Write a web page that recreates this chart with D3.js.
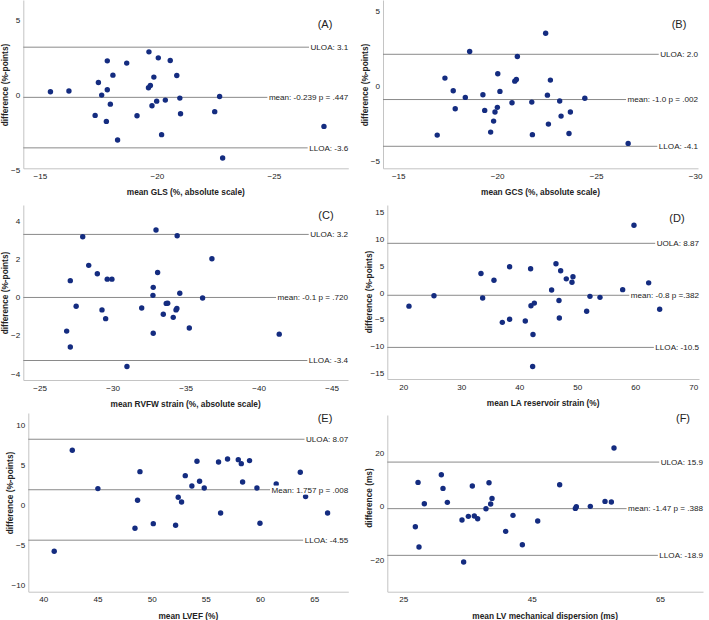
<!DOCTYPE html>
<html><head><meta charset="utf-8">
<script src="https://cdn.jsdelivr.net/npm/d3@7"></script>
<style>body{margin:0;background:#fff}svg{display:block}</style>
</head><body>
<svg id="chart" width="709" height="620"></svg>
<script>
// ---------- DATA ----------
// (A) GLS
const glsMean = [-15.45,-16.24,-17.36,-17.5,-17.64,-17.84,-17.88,-17.88,-18.01,-18.12,-18.32,-18.71,-19.15,-19.66,-19.64,-19.72,-19.79,-19.87,-19.99,-20.06,-20.2,-20.36,-20.57,-20.85,-20.98,-21.01,-22.47,-22.68,-22.81,-27.14];
const glsDiff = [0.13,0.18,-1.44,0.75,-0.09,-1.84,2.19,0.27,-0.69,1.24,-3.08,2.04,-1.46,2.79,0.40,0.55,-0.80,1.11,-0.49,2.39,-2.72,-0.42,2.21,1.22,-0.29,-1.33,-1.19,-0.18,-4.27,-2.17];
const glsLines = [3.1, -0.239, -3.6];
const glsLineLabels = ["ULOA: 3.1", "mean: -0.239 p = .447", "LLOA: -3.6"];
const glsXTicks = [-15, -20, -25];
const glsYTicks = [-5, 0, 5];

// (B) GCS
const gcsMean = [-16.97,-17.36,-17.78,-17.88,-18.39,-18.61,-19.28,-19.37,-19.67,-19.82,-19.89,-20.01,-20.03,-20.14,-20.75,-20.89,-20.97,-21.02,-21.75,-21.78,-22.45,-22.54,-22.59,-22.69,-23.16,-23.23,-23.63,-23.70,-24.43,-26.62];
const gcsDiff = [-3.36,0.42,-0.42,-1.61,-0.86,2.19,-0.68,-1.72,-3.16,-2.43,-1.83,-1.52,0.71,-0.46,-1.21,0.22,0.33,1.85,-1.17,-3.33,3.40,-0.71,-2.63,0.29,-1.10,-2.10,-3.25,-1.83,-0.91,-3.91];
const gcsLines = [2.0, -1.0, -4.1];
const gcsLineLabels = ["ULOA: 2.0", "mean: -1.0 p = .002", "LLOA: -4.1"];
const gcsXTicks = [-15, -20, -25, -30];
const gcsYTicks = [-5, 0, 5];

// (C) RVFW strain
const rvMean = [-26.85,-27.1,-27.1,-27.5,-27.95,-28.36,-28.95,-29.27,-29.52,-29.63,-29.95,-30.98,-31.99,-32.76,-32.78,-32.78,-32.97,-33.08,-33.47,-33.67,-33.77,-34.15,-34.34,-34.4,-34.42,-34.6,-35.25,-36.16,-36.8,-41.41];
const rvDiff = [-1.86,0.78,-2.69,-0.56,3.08,1.58,1.14,-0.75,-1.21,0.86,0.86,-3.71,-0.65,0.01,0.43,-1.97,3.43,1.21,-0.98,-0.41,-0.40,-1.14,-0.75,-0.68,3.13,0.12,-1.70,-0.13,1.93,-2.02];
const rvLines = [3.2, -0.1, -3.4];
const rvLineLabels = ["ULOA: 3.2", "mean: -0.1 p = .720", "LLOA: -3.4"];
const rvXTicks = [-25, -30, -35, -40, -45];
const rvYTicks = [-4, -2, 0, 2, 4];

// (D) LA reservoir strain
const laMean = [20.98,25.29,33.39,33.68,35.63,37.07,38.33,38.33,41.03,41.95,42.01,42.36,42.3,42.59,45.57,46.32,46.84,46.9,47.13,48.1,49.08,49.25,51.61,52.18,53.91,57.82,59.77,62.3,64.2];
const laDiff = [-2.82,-0.88,3.26,-1.32,2.01,-5.84,4.52,-5.27,-5.59,4.14,-2.76,-8.10,-14.06,-2.26,0.19,5.08,-1.76,-5.02,3.77,2.26,1.63,2.64,-3.77,-1.0,-1.19,0.25,12.24,1.51,-3.39];
const laLines = [8.87, -0.8, -10.5];
const laLineLabels = ["UOLA: 8.87", "mean: -0.8 p =.382", "LLOA: -10.5"];
const laXTicks = [20, 30, 40, 50, 60, 70];
const laYTicks = [-15, -10, -5, 0, 5, 10, 15];

// (E) LVEF
const efMean = [41.01,42.68,45.04,48.46,48.7,48.92,50.15,52.21,52.45,52.76,53.1,53.71,54.18,54.42,54.85,56.17,56.36,57.0,57.99,58.27,58.39,59.03,59.71,59.99,61.49,63.71,64.2,66.23];
const efDiff = [-5.94,6.69,1.90,-3.06,0.44,4.02,-2.48,-2.69,0.81,0.23,3.52,2.23,5.31,2.81,1.98,5.23,-1.15,5.6,5.52,5.02,2.73,5.40,1.98,-2.44,2.48,3.94,0.90,-1.15];
const efLines = [8.07, 1.757, -4.55];
const efLineLabels = ["ULOA: 8.07", "Mean: 1.757 p = .008", "LLOA: -4.55"];
const efXTicks = [40, 45, 50, 55, 60, 65];
const efYTicks = [-10, -5, 0, 5, 10];

// (F) LV mechanical dispersion
const mdMean = [26.87,27.29,27.44,28.27,30.92,31.18,31.86,34.14,35.13,35.75,36.06,36.58,37.88,38.35,38.61,38.82,34.4,40.95,42.09,43.55,45.94,49.36,51.81,51.96,54.14,56.43,57.42,57.83];
const mdDiff = [-8.21,8.33,-15.80,0.37,11.19,6.09,0.87,-5.72,-4.35,6.97,-4.23,-5.22,-1.49,8.21,0.25,2.36,-21.39,-9.95,-3.98,-14.93,-6.09,7.46,-1.37,-0.75,-0.62,1.24,0.99,21.14];
const mdLines = [15.9, -1.47, -18.9];
const mdLineLabels = ["ULOA: 15.9", "mean: -1.47 p = .388", "LLOA: -18.9"];
const mdXTicks = [25, 45, 65];
const mdYTicks = [-20, 0, 20];

// ---------- LAYOUT ----------
const panels = [
  {letter:"(A)", xs:glsMean, ys:glsDiff, lines:glsLines, labels:glsLineLabels, xt:glsXTicks, yt:glsYTicks,
   xTitle:"mean GLS (%, absolute scale)", yTitle:"difference (%-points)",
   box:{l:23.3,r:348.3,t:0,b:168.3}, xDom:[-14.29,-28.18], yDom:[-4.96,6.24], lx:325, ly:24, yty:85},
  {letter:"(B)", xs:gcsMean, ys:gcsDiff, lines:gcsLines, labels:gcsLineLabels, xt:gcsXTicks, yt:gcsYTicks,
   xTitle:"mean GCS (%, absolute scale)", yTitle:"difference (%-points)",
   box:{l:383,r:698,t:0,b:168.3}, xDom:[-14.23,-30.15], yDom:[-5.56,5.6], lx:679, ly:24, yty:85},
  {letter:"(C)", xs:rvMean, ys:rvDiff, lines:rvLines, labels:rvLineLabels, xt:rvXTicks, yt:rvYTicks,
   xTitle:"mean RVFW strain (%, absolute scale)", yTitle:"difference (%-points)",
   box:{l:23.3,r:348,t:205,b:380}, xDom:[-23.88,-46.12], yDom:[-4.42,4.74], lx:326, ly:215, yty:293},
  {letter:"(D)", xs:laMean, ys:laDiff, lines:laLines, labels:laLineLabels, xt:laXTicks, yt:laYTicks,
   xTitle:"mean LA reservoir strain (%)", yTitle:"difference (%-points)",
   box:{l:387.3,r:699,t:205,b:379}, xDom:[17.24,70.98], yDom:[-16.38,16.0], lx:677, ly:218, yty:292},
  {letter:"(E)", xs:efMean, ys:efDiff, lines:efLines, labels:efLineLabels, xt:efXTicks, yt:efYTicks,
   xTitle:"mean LVEF (%)", yTitle:"difference (%-points)",
   box:{l:28.3,r:348.3,t:413,b:591.7}, xDom:[38.62,68.14], yDom:[-10.99,11.35], lx:325, ly:418, yty:493},
  {letter:"(F)", xs:mdMean, ys:mdDiff, lines:mdLines, labels:mdLineLabels, xt:mdXTicks, yt:mdYTicks,
   xTitle:"mean LV mechanical dispersion (ms)", yTitle:"difference (ms)",
   box:{l:387.3,r:703,t:415,b:591.7}, xDom:[22.5,71.7], yDom:[-32.46,33.47], lx:683, ly:418, yty:498}
];

// font choice: narrow font if available
function hasFont(f){
  const c=document.createElement('canvas').getContext('2d');
  const s='abcdefghijklmnopqrstuvwxyz0123456789';
  c.font='20px monospace'; const w0=c.measureText(s).width;
  c.font='20px "'+f+'", monospace'; return c.measureText(s).width!==w0;
}
const narrow = hasFont('Liberation Sans Narrow');
const FAM = narrow ? '"Liberation Sans Narrow", "Liberation Sans", Arial, sans-serif' : '"Liberation Sans", Arial, sans-serif';
const FS = narrow ? 9.7 : 8.1;      // tick / label size
const FT = narrow ? 9.9 : 8.3;      // axis title size

const svg = d3.select('#chart');
const AXIS = '#c4c4c4', REF = '#8a8a8a', TXT = '#222', DOT = '#142c80';

panels.forEach(p => {
  const b = p.box;
  const x = d3.scaleLinear().domain(p.xDom).range([b.l, b.r]);
  const y = d3.scaleLinear().domain(p.yDom).range([b.b, b.t]);
  const g = svg.append('g');

  // axes
  const ax = g.append('g').attr('transform', `translate(0,${b.b})`)
    .call(d3.axisBottom(x).tickValues(p.xt).tickSize(0).tickSizeOuter(0).tickPadding(5).tickFormat(d3.format('d')));
  const ay = g.append('g').attr('transform', `translate(${b.l},0)`)
    .call(d3.axisLeft(y).tickValues(p.yt).tickSize(0).tickSizeOuter(0).tickPadding(3).tickFormat(d3.format('d')));
  [ax, ay].forEach(a => {
    a.select('.domain').attr('stroke', AXIS).attr('stroke-width', 1);
    a.selectAll('text').attr('fill', TXT).style('font-family', FAM).style('font-size', FS + 'px');
  });
  ay.selectAll('text').attr('dy', '0.5em');

  // reference lines
  g.selectAll('line.ref').data(p.lines).enter().append('line')
    .attr('x1', b.l).attr('x2', b.r)
    .attr('y1', d => y(d)).attr('y2', d => y(d))
    .attr('stroke', REF).attr('stroke-width', 1);

  // dots
  g.selectAll('circle').data(p.xs.map((v, i) => [v, p.ys[i]])).enter().append('circle')
    .attr('cx', d => x(d[0])).attr('cy', d => y(d[1])).attr('r', 2.7).attr('fill', DOT);

  // line labels with white background
  p.lines.forEach((v, i) => {
    const lg = g.append('g');
    const t = lg.append('text').attr('x', b.r).attr('y', y(v)).attr('dy', '0.35em')
      .attr('text-anchor', 'end').attr('fill', TXT)
      .style('font-family', FAM).style('font-size', FS + 'px').text(p.labels[i]);
    const bb = t.node().getBBox();
    lg.insert('rect', 'text').attr('x', bb.x - 1.5).attr('y', bb.y).attr('width', bb.width + 1.5).attr('height', bb.height).attr('fill', '#fff');
  });

  // panel letter
  g.append('text').attr('x', p.lx).attr('y', p.ly).attr('dy', '0.35em').attr('text-anchor', 'middle')
    .attr('fill', TXT).style('font-family', '"Liberation Sans", Arial, sans-serif').style('font-size', '11px').text(p.letter);

  // axis titles
  g.append('text').attr('x', (b.l + b.r) / 2).attr('y', b.b + 24).attr('dy', '0.35em')
    .attr('text-anchor', 'middle').attr('fill', TXT).style('font-weight', 'bold')
    .style('font-family', FAM).style('font-size', FT + 'px').text(p.xTitle);
  g.append('text').attr('transform', `translate(${b.l - 18},${p.yty}) rotate(-90)`).attr('dy', '0.35em')
    .attr('text-anchor', 'middle').attr('fill', TXT).style('font-weight', 'bold')
    .style('font-family', FAM).style('font-size', FT + 'px').text(p.yTitle);
});
</script>
</body></html>
